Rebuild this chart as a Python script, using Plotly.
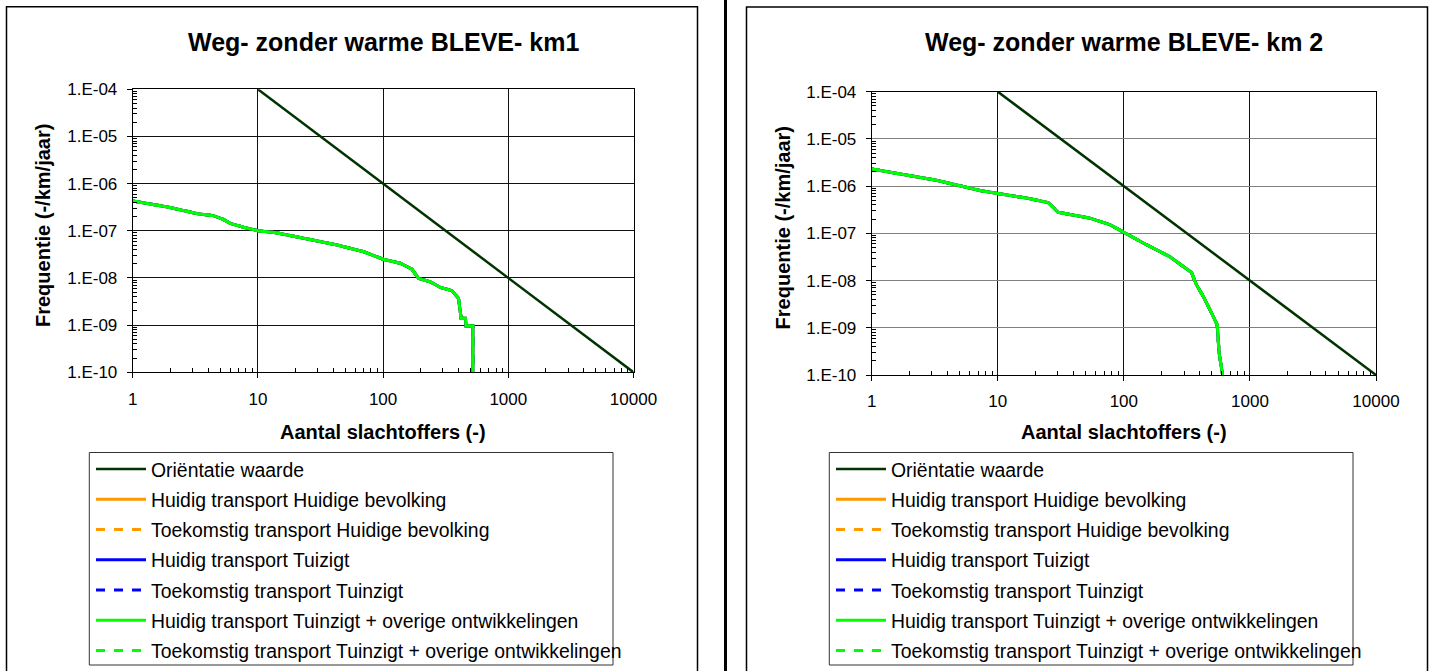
import plotly.graph_objects as go

W, H = 1433, 671
FONT = "Liberation Sans, Arial, sans-serif"

# ---- data -------------------------------------------------------------
# Orientation value line: F = 1e-2 / N^2
orient_n = [10, 100, 1000, 10000]
orient_f = [1e-4, 1e-6, 1e-8, 1e-10]

# FN curve, km 1
km1_n = [1, 1.9, 3.3, 4.4, 5.3, 6.0, 7.7, 10, 14, 18, 25, 43, 70, 100, 137, 170,
         192, 238, 286, 354, 400, 420, 455, 460, 521, 521]
km1_f = [4.3e-7, 3.2e-7, 2.3e-7, 2.1e-7, 1.75e-7, 1.44e-7, 1.19e-7, 1.0e-7, 9.1e-8,
         7.9e-8, 6.7e-8, 5.0e-8, 3.6e-8, 2.5e-8, 2.05e-8, 1.53e-8, 9.8e-9, 8.3e-9,
         6.3e-9, 5.4e-9, 3.7e-9, 1.4e-9, 1.4e-9, 9.6e-10, 9.6e-10, 1.0e-10]

# FN curve, km 2
km2_n = [1, 1.48, 2.13, 3.26, 5.0, 7.2, 10, 16.9, 25.1, 28.3, 30.1, 44.7, 53.7, 77.4,
         100, 151, 232, 344, 377, 427, 497, 550, 570, 607]
km2_f = [2.3e-6, 1.9e-6, 1.63e-6, 1.33e-6, 1.02e-6, 8.1e-7, 6.95e-7, 5.6e-7, 4.5e-7,
         3.2e-7, 2.8e-7, 2.3e-7, 2.1e-7, 1.53e-7, 1.05e-7, 5.75e-8, 3.2e-8, 1.48e-8,
         8.1e-9, 4.6e-9, 2.04e-9, 1.15e-9, 2.9e-10, 1.0e-10]

series_names = [
    "Oriëntatie waarde",
    "Huidig transport Huidige bevolking",
    "Toekomstig transport Huidige bevolking",
    "Huidig transport Tuizigt",
    "Toekomstig transport Tuinzigt",
    "Huidig transport Tuinzigt + overige ontwikkelingen",
    "Toekomstig transport Tuinzigt + overige ontwikkelingen",
]
series_colors = ["#003300", "#FF9900", "#FF9900", "#0000FF", "#0000FF", "#00FF00", "#00FF00"]
series_dash = ["solid", "solid", "dash", "solid", "dash", "solid", "dash"]

titles = ["Weg- zonder warme BLEVE- km1", "Weg- zonder warme BLEVE- km 2"]
x_title = "Aantal slachtoffers (-)"
y_title = "Frequentie (-/km/jaar)"

x_ticks = [1, 10, 100, 1000, 10000]
x_ticktext = ["1", "10", "100", "1000", "10000"]
y_ticks = [1e-4, 1e-5, 1e-6, 1e-7, 1e-8, 1e-9, 1e-10]
y_ticktext = ["1.E-04", "1.E-05", "1.E-06", "1.E-07", "1.E-08", "1.E-09", "1.E-10"]

x_minor = [k * 10 ** e for e in range(0, 4) for k in range(2, 10)]
y_minor = [k * 10.0 ** e for e in range(-10, -4) for k in range(2, 10)]

# ---- figure -----------------------------------------------------------
fig = go.Figure()

panels = [
    dict(xa="x", ya="y", leg="legend", n=km1_n, f=km1_f),
    dict(xa="x2", ya="y2", leg="legend2", n=km2_n, f=km2_f),
]

for p in panels:
    for i, name in enumerate(series_names):
        if i == 0:
            xs, ys = orient_n, orient_f
        else:
            # the scenario curves coincide; the last one drawn ends up on top
            xs, ys = p["n"], p["f"]
        fig.add_trace(go.Scatter(
            x=xs, y=ys, mode="lines", name=name,
            line=dict(color=series_colors[i], width=3 if i else 2.5, dash=series_dash[i]),
            xaxis=p["xa"], yaxis=p["ya"], legend=p["leg"],
            legendgroup=p["leg"] + str(i), hoverinfo="skip",
        ))


def px_x(v):
    return v / W


def px_y(v):
    return 1 - v / H


def xaxis_cfg(x0, x1, gridcolor, anchor):
    return dict(
        type="log", domain=[px_x(x0), px_x(x1)], range=[0, 4], anchor=anchor,
        automargin=False,
        tickmode="array", tickvals=x_ticks, ticktext=x_ticktext,
        ticks="outside", ticklen=5, tickcolor="black", tickwidth=1,
        ticklabelstandoff=6,
        tickfont=dict(family=FONT, size=17, color="black"),
        showgrid=True, gridcolor=gridcolor, gridwidth=1,
        showline=True, linecolor="black", linewidth=1, mirror=True,
        minor=dict(tickmode="array", tickvals=x_minor, ticks="inside", ticklen=4,
                   tickcolor="black", showgrid=False),
        zeroline=False, fixedrange=True,
    )


def yaxis_cfg(y0, y1, gridcolor, anchor):
    return dict(
        type="log", domain=[px_y(y1), px_y(y0)], range=[-10, -4], anchor=anchor,
        automargin=False,
        tickmode="array", tickvals=y_ticks, ticktext=y_ticktext,
        ticks="outside", ticklen=5, tickcolor="black", tickwidth=1,
        ticklabelstandoff=6,
        tickfont=dict(family=FONT, size=17, color="black"),
        showgrid=True, gridcolor=gridcolor, gridwidth=1,
        showline=True, linecolor="black", linewidth=1, mirror=True,
        minor=dict(tickmode="array", tickvals=y_minor, ticks="inside", ticklen=4,
                   tickcolor="black", showgrid=False),
        zeroline=False, fixedrange=True,
    )


def legend_cfg(x_left, y_top):
    return dict(
        x=px_x(x_left), y=px_y(y_top), xanchor="left", yanchor="top",
        bgcolor="rgba(0,0,0,0)", borderwidth=0,
        font=dict(family=FONT, size=19.4, color="black"),
        tracegroupgap=2, itemwidth=50, itemclick=False, itemdoubleclick=False,
    )


# panel layout in pixels: (plot left, plot right, plot top, plot bottom)
geo = [(132.7, 633.5, 89.3, 372.3), (871.7, 1376.0, 91.7, 375.0)]
offset = [0, 740]

annotations = []
shapes = []
for k, (x0, x1, y0, y1) in enumerate(geo):
    cx = (x0 + x1) / 2
    annotations.append(dict(
        text="<b>%s</b>" % titles[k], x=px_x(cx), y=px_y(42), xref="paper", yref="paper",
        xanchor="center", yanchor="middle", showarrow=False,
        font=dict(family=FONT, size=25, color="black"),
    ))
    annotations.append(dict(
        text="<b>%s</b>" % x_title, x=px_x(cx), y=px_y(432), xref="paper", yref="paper",
        xanchor="center", yanchor="middle", showarrow=False,
        font=dict(family=FONT, size=20, color="black"),
    ))
    annotations.append(dict(
        text="<b>%s</b>" % y_title, x=px_x(43 + offset[k]), y=px_y(226 + (y0 - 89.3)),
        xref="paper", yref="paper", textangle=-90,
        xanchor="center", yanchor="middle", showarrow=False,
        font=dict(family=FONT, size=20, color="black"),
    ))
    # legend frame
    shapes.append(dict(
        type="rect", xref="paper", yref="paper",
        x0=px_x(89.3 + offset[k]), x1=px_x(613 + offset[k]),
        y0=px_y(665), y1=px_y(452.5),
        line=dict(color="#333333", width=1), fillcolor="rgba(0,0,0,0)", layer="below",
    ))

# chart area frames and separator
shapes.append(dict(type="rect", xref="paper", yref="paper",
                   x0=px_x(6.5), x1=px_x(697.5), y0=-0.02, y1=px_y(6.7),
                   line=dict(color="black", width=1.5)))
shapes.append(dict(type="rect", xref="paper", yref="paper",
                   x0=px_x(746.5), x1=px_x(1427.5), y0=-0.02, y1=px_y(7),
                   line=dict(color="black", width=1.5)))
shapes.append(dict(type="line", xref="paper", yref="paper",
                   x0=px_x(725.5), x1=px_x(725.5), y0=-0.02, y1=1.02,
                   line=dict(color="black", width=3)))

fig.update_layout(
    width=W, height=H,
    margin=dict(l=0, r=0, t=0, b=0, pad=0, autoexpand=False),
    paper_bgcolor="white", plot_bgcolor="white",
    font=dict(family=FONT, color="black"),
    xaxis=xaxis_cfg(geo[0][0], geo[0][1], "#111111", "y"),
    yaxis=yaxis_cfg(geo[0][2], geo[0][3], "#111111", "x"),
    xaxis2=xaxis_cfg(geo[1][0], geo[1][1], "#111111", "y2"),
    yaxis2=yaxis_cfg(geo[1][2], geo[1][3], "#808080", "x2"),
    legend=legend_cfg(91, 450),
    legend2=legend_cfg(91 + 740, 450),
    annotations=annotations,
    shapes=shapes,
    showlegend=True,
)

fig.write_html("out.html")
